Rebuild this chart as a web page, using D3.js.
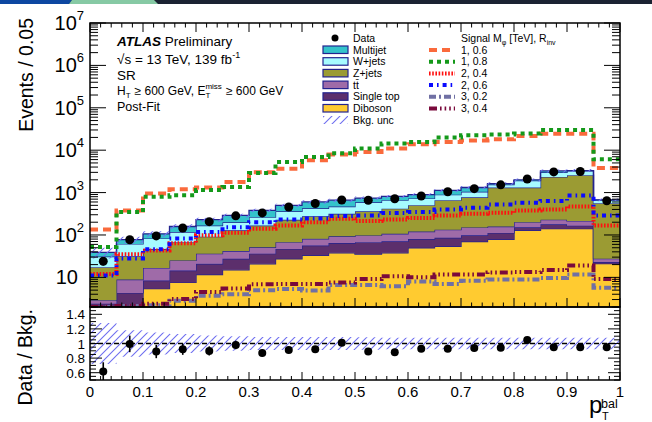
<!DOCTYPE html>
<html lang="en">
<head>
<meta charset="UTF-8">
<title>pT bal SR post-fit</title>
<script src="https://d3js.org/d3.v7.min.js"></script>
<style>
  body { margin: 0; background: #fff; }
  svg { display: block; font-family: "Liberation Sans", Arial, sans-serif; }
</style>
</head>
<body>
<div id="chart"></div>
<script>
// bin low edges in pT^bal (width 0.05)
const binLow = [0, 0.05, 0.1, 0.15, 0.2, 0.25, 0.3, 0.35, 0.4, 0.45, 0.5, 0.55, 0.6, 0.65, 0.7, 0.75, 0.8, 0.85, 0.9, 0.95];
const binWidth = 0.05;

// background stack (events / bin)
const multijet  = [8, 16, 24, 41, 63, 89, 117, 138, 176, 193, 152, 152, 167, 231, 271, 73, 90, 216, 75, 15];
const wjets     = [13.5, 30, 36, 50, 75, 71, 97, 134, 151, 151, 226, 244, 223, 230, 271, 231, 587, 676, 666, 98];
const zjets     = [14.5, 22.5, 30, 42.5, 55, 87, 115, 161, 194, 223, 265, 310, 384, 529, 625, 1160, 1119, 2115, 2356, 535];
const ttbar     = [0.5, 4.6, 8.3, 10.6, 15.4, 14.2, 15, 20.8, 25.1, 28.7, 30, 36, 40, 47, 53, 46, 48, 51, 48, 4.6];
const singletop = [1.0, 2.5, 3.0, 6.9, 9.2, 12.4, 15.4, 19.3, 23.1, 26.6, 32, 33, 30, 32, 28, 33, 23, 37, 25, 2.0];
const diboson   = [1.4, 1.8, 5.4, 7.6, 11.7, 15.1, 20.9, 27.5, 33.1, 38, 35.5, 38, 50, 54, 70, 79, 129, 141, 141, 21];
const bkgUnc    = [0.28, 0.18, 0.15, 0.13, 0.11, 0.10, 0.09, 0.09, 0.09, 0.09, 0.085, 0.08, 0.08, 0.08, 0.08, 0.08, 0.08, 0.08, 0.08, 0.08];

const dataCounts = [24, 77, 95, 146, 206, 283, 331, 456, 554, 667, 660, 715, 829, 1043, 1239, 1525, 2095, 3074, 3145, 642];

// signals: M_phi [TeV], R_inv
const sig_1_06 = [135, 380, 950, 1200, 1310, 1780, 3020, 3630, 5750, 7950, 9100, 10900, 13800, 15500, 17000, 18000, 21700, 24500, 24500, 3800];
const sig_1_08 = [52, 346, 800, 870, 1150, 1350, 2880, 5250, 6900, 8500, 10900, 14400, 15500, 19800, 22400, 23300, 24600, 29800, 29800, 6100];
const sig_2_04 = [12, 35, 43, 64, 98, 113, 141, 167, 200, 240, 213, 233, 250, 288, 316, 333, 380, 400, 468, 167];
const sig_2_06 = [11, 28, 46, 83, 117, 152, 200, 232, 245, 280, 288, 328, 347, 400, 436, 525, 575, 630, 850, 288];
const sig_3_02 = [2.0, 2.1, 2.2, 2.8, 3.7, 4.0, 5.0, 5.3, 4.9, 6.6, 6.6, 6.2, 8.0, 7.0, 8.3, 8.9, 8.9, 9.6, 11.7, 5.7];
const sig_3_04 = [1.5, 2.1, 2.4, 3.1, 4.5, 5.5, 6.9, 7.0, 7.0, 7.6, 9.1, 10.6, 10.0, 11.7, 11.7, 13, 13.3, 15, 19, 9.1];

const xTicks = [0, 0.1, 0.2, 0.3, 0.4, 0.5, 0.6, 0.7, 0.8, 0.9, 1];
const xTickLabels = ["0", "0.1", "0.2", "0.3", "0.4", "0.5", "0.6", "0.7", "0.8", "0.9", "1"];
const yExps = [1, 2, 3, 4, 5, 6, 7];
const rTicks = [0.6, 0.8, 1, 1.2, 1.4];
const rTickLabels = ["0.6", "0.8", "1", "1.2", "1.4"];

const W = 652, H = 422;
const L = 90, R = 620, T = 23, MB = 307, RB = 380;

const svg = d3.select("#chart").append("svg").attr("width", W).attr("height", H);

// page banner strip at the very top
svg.append("rect").attr("x", 0).attr("y", 0).attr("width", W).attr("height", 4).attr("fill", "#1b2232");
svg.append("path").attr("d", "M0,0 L72,0 L69,4 L0,4 Z").attr("fill", "#0d47a1");
svg.append("path").attr("d", "M72,0 L154,0 L158,4 L69,4 Z").attr("fill", "#86c9a4");

const defs = svg.append("defs");
const hatch = defs.append("pattern").attr("id", "hatch").attr("patternUnits", "userSpaceOnUse")
  .attr("width", 8).attr("height", 8);
hatch.append("path").attr("d", "M-2,2 L2,-2 M0,8 L8,0 M6,10 L10,6")
  .attr("stroke", "#6f6ff0").attr("stroke-width", 1.1);
defs.append("clipPath").attr("id", "clipMain").append("rect")
  .attr("x", L).attr("y", T).attr("width", R - L).attr("height", MB - T);
defs.append("clipPath").attr("id", "clipRatio").append("rect")
  .attr("x", L).attr("y", MB).attr("width", R - L).attr("height", RB - MB);

const x = d3.scaleLinear().domain([0, 1]).range([L, R]);
const y = d3.scaleLog().domain([2, 1e7]).range([MB, T]).clamp(true);
const yr = d3.scaleLinear().domain([0.5, 1.5]).range([RB, MB]);

// stack
const keys = ["diboson", "singletop", "ttbar", "zjets", "wjets", "multijet"];
const comps = { diboson, singletop, ttbar, zjets, wjets, multijet };
const colors = {
  multijet: "#34c3cb", wjets: "#a6fbff", zjets: "#9b9b33",
  ttbar: "#9f6ba8", singletop: "#5c2f6c", diboson: "#ffcb30"
};
const rows = binLow.map((b, i) => {
  const r = { lo: b };
  keys.forEach(k => r[k] = comps[k][i]);
  return r;
});
const stacked = d3.stack().keys(keys)(rows);
const total = rows.map(r => d3.sum(keys, k => r[k]));

function stepPts(vals) {
  const pts = [];
  vals.forEach((v, i) => {
    pts.push([x(binLow[i]), v]);
    pts.push([x(binLow[i] + binWidth), v]);
  });
  return pts;
}

const main = svg.append("g").attr("clip-path", "url(#clipMain)");

const area = d3.area().x(d => d.x).y0(d => y(Math.max(d.lo, 1e-3))).y1(d => y(Math.max(d.hi, 1e-3)));
stacked.forEach(layer => {
  const pts = [];
  layer.forEach((d, i) => {
    pts.push({ x: x(binLow[i]), lo: d[0], hi: d[1] });
    pts.push({ x: x(binLow[i] + binWidth), lo: d[0], hi: d[1] });
  });
  main.append("path").attr("d", area(pts)).attr("fill", colors[layer.key]);
  main.append("path")
    .attr("d", d3.line().x(d => d.x).y(d => y(Math.max(d.hi, 1e-3)))(pts))
    .attr("fill", "none").attr("stroke", "#23238f").attr("stroke-width", 1.3);
});

// bkg uncertainty band
const bandPts = [];
total.forEach((t, i) => {
  bandPts.push({ x: x(binLow[i]), lo: t * (1 - bkgUnc[i]), hi: t * (1 + bkgUnc[i]) });
  bandPts.push({ x: x(binLow[i] + binWidth), lo: t * (1 - bkgUnc[i]), hi: t * (1 + bkgUnc[i]) });
});
main.append("path").attr("d", area(bandPts)).attr("fill", "url(#hatch)");

// signals
const signals = [
  { label: "1, 0.6", vals: sig_1_06, color: "#fa6a3c", dash: "8,5" },
  { label: "1, 0.8", vals: sig_1_08, color: "#14991a", dash: "4,4" },
  { label: "2, 0.4", vals: sig_2_04, color: "#ff1010", dash: "1.6,1.6" },
  { label: "2, 0.6", vals: sig_2_06, color: "#0a0aff", dash: "4,4,1.6,4" },
  { label: "3, 0.2", vals: sig_3_02, color: "#7070a4", dash: "7,3,2,3" },
  { label: "3, 0.4", vals: sig_3_04, color: "#7a0a3c", dash: "8,3,1.6,3,1.6,3,1.6,3" }
];
const sline = d3.line().x(d => d[0]).y(d => y(d[1]));
signals.forEach(s => {
  main.append("path").attr("d", sline(stepPts(s.vals)))
    .attr("fill", "none").attr("stroke", s.color).attr("stroke-width", 4)
    .attr("stroke-dasharray", s.dash);
});

// data
const dg = svg.append("g").attr("clip-path", "url(#clipMain)");
dataCounts.forEach((n, i) => {
  const cx = x(binLow[i] + binWidth / 2);
  const e = Math.sqrt(n);
  dg.append("line").attr("x1", cx).attr("x2", cx).attr("y1", y(n - e)).attr("y2", y(n + e))
    .attr("stroke", "#000").attr("stroke-width", 1.6);
  dg.append("circle").attr("cx", cx).attr("cy", y(n)).attr("r", 4.5).attr("fill", "#000");
});

// ratio panel
const rg = svg.append("g").attr("clip-path", "url(#clipRatio)");
const rArea = d3.area().x(d => d.x).y0(d => yr(d.lo)).y1(d => yr(d.hi));
const rBand = [];
bkgUnc.forEach((u, i) => {
  rBand.push({ x: x(binLow[i]), lo: 1 - u, hi: 1 + u });
  rBand.push({ x: x(binLow[i] + binWidth), lo: 1 - u, hi: 1 + u });
});
rg.append("path").attr("d", rArea(rBand)).attr("fill", "url(#hatch)");
rg.append("line").attr("x1", L).attr("x2", R).attr("y1", yr(1)).attr("y2", yr(1))
  .attr("stroke", "#000").attr("stroke-width", 1.5).attr("stroke-dasharray", "5,3");
dataCounts.forEach((n, i) => {
  const cx = x(binLow[i] + binWidth / 2);
  const r = n / total[i];
  const e = Math.sqrt(n) / total[i];
  rg.append("line").attr("x1", cx).attr("x2", cx).attr("y1", yr(r - e)).attr("y2", yr(r + e))
    .attr("stroke", "#000").attr("stroke-width", 1.6);
  rg.append("circle").attr("cx", cx).attr("cy", yr(r)).attr("r", 4).attr("fill", "#000");
});

// frames
svg.append("rect").attr("x", L).attr("y", T).attr("width", R - L).attr("height", MB - T)
  .attr("fill", "none").attr("stroke", "#000").attr("stroke-width", 1.5);
svg.append("rect").attr("x", L).attr("y", MB).attr("width", R - L).attr("height", RB - MB)
  .attr("fill", "none").attr("stroke", "#000").attr("stroke-width", 1.5);

// ticks
const tk = svg.append("g").attr("stroke", "#000").attr("stroke-width", 1);
function tick(x1, y1, x2, y2) { tk.append("line").attr("x1", x1).attr("y1", y1).attr("x2", x2).attr("y2", y2); }
for (let k = 0; k <= 50; k++) {
  const v = k * 0.02;
  const major = k % 5 === 0;
  const px = x(v);
  const len = major ? 9 : 4.5;
  tick(px, MB, px, MB - len);
  tick(px, T, px, T + len);
  tick(px, RB, px, RB - (major ? 8 : 4));
}
for (let e = 0; e <= 6; e++) {
  for (let m = 1; m <= 9; m++) {
    const v = m * Math.pow(10, e);
    if (v < 2 || v > 1e7) continue;
    const py = y(v);
    const len = m === 1 ? 16 : 8;
    tick(L, py, L + len, py);
    tick(R, py, R - len, py);
  }
}
tick(L, y(1e7), L + 16, y(1e7));
tick(R, y(1e7), R - 16, y(1e7));
for (let k = 0; k <= 20; k++) {
  const v = 0.5 + k * 0.05;
  const major = Math.abs(((v - 0.6) / 0.2) - Math.round((v - 0.6) / 0.2)) < 1e-6;
  const len = major ? 12 : 6;
  tick(L, yr(v), L + len, yr(v));
  tick(R, yr(v), R - len, yr(v));
}

// tick labels
const txt = svg.append("g").attr("fill", "#000");
yExps.forEach(e => {
  const t = txt.append("text").attr("x", e === 1 ? 78 : 84).attr("y", y(Math.pow(10, e)) + 7)
    .attr("text-anchor", "end").attr("font-size", 20);
  t.append("tspan").text("10");
  if (e > 1) t.append("tspan").attr("font-size", 13).attr("dy", -10).text(String(e));
});
rTicks.forEach((v, i) => {
  txt.append("text").attr("x", 85).attr("y", yr(v) + 5).attr("text-anchor", "end")
    .attr("font-size", 13.5).text(rTickLabels[i]);
});
xTicks.forEach((v, i) => {
  txt.append("text").attr("x", x(v)).attr("y", 397).attr("text-anchor", "middle")
    .attr("font-size", 15).text(xTickLabels[i]);
});

// axis titles
txt.append("text").attr("transform", `translate(33,18) rotate(-90)`).attr("text-anchor", "end")
  .attr("font-size", 19.5).text("Events / 0.05");
txt.append("text").attr("transform", `translate(32,309) rotate(-90)`).attr("text-anchor", "end")
  .attr("font-size", 19.5).text("Data / Bkg.");
txt.append("text").attr("x", 589).attr("y", 413).attr("font-size", 24).text("p");
txt.append("text").attr("x", 601).attr("y", 408).attr("font-size", 12.5).text("bal");
txt.append("text").attr("x", 602).attr("y", 420).attr("font-size", 11).text("T");

// ATLAS label block
const lab = svg.append("g").attr("font-size", 13.5);
const atl = lab.append("text").attr("x", 117).attr("y", 46);
atl.append("tspan").attr("font-weight", "bold").attr("font-style", "italic").text("ATLAS");
atl.append("tspan").text(" Preliminary");
const sq = lab.append("text").attr("x", 117).attr("y", 64);
sq.append("tspan").text("\u221As = 13 TeV, 139 fb");
sq.append("tspan").attr("font-size", 9).attr("dy", -6).text("-1");
lab.append("text").attr("x", 117).attr("y", 80).text("SR");

// H_T >= 600 GeV, E_T^miss >= 600 GeV, pieces placed one after another
let cx0 = 117;
function piece(str, size, dy) {
  const t = lab.append("text").attr("x", cx0).attr("y", 95 + dy).attr("font-size", size).text(str);
  return t.node().getComputedTextLength();
}
cx0 += piece("H", 12, 0);
cx0 += piece("T", 8, 2.5) + 4;
cx0 += piece("\u2265 600 GeV, E", 12, 0);
const wMiss = piece("miss", 8, -6);
piece("T", 8, 2.5);
cx0 += wMiss + 4;
piece("\u2265 600 GeV", 12, 0);
lab.append("text").attr("x", 117).attr("y", 111).attr("font-size", 12.5).text("Post-Fit");

// legend: backgrounds
const lg = svg.append("g").attr("font-size", 10.5);
lg.append("circle").attr("cx", 335).attr("cy", 38).attr("r", 3.5).attr("fill", "#000");
lg.append("text").attr("x", 353).attr("y", 42).text("Data");
const legBkg = [
  ["Multijet", "multijet"], ["W+jets", "wjets"], ["Z+jets", "zjets"],
  ["tt\u0304", "ttbar"], ["Single top", "singletop"], ["Diboson", "diboson"]
];
legBkg.forEach((d, i) => {
  const by = 53.5 + i * 11.7;
  lg.append("rect").attr("x", 323).attr("y", by - 7.5).attr("width", 25).attr("height", 7.5)
    .attr("fill", colors[d[1]]).attr("stroke", "#23238f").attr("stroke-width", 1.2);
  lg.append("text").attr("x", 353).attr("y", by).text(d[0]);
});
lg.append("rect").attr("x", 323).attr("y", 116).attr("width", 25).attr("height", 8).attr("fill", "url(#hatch)");
lg.append("text").attr("x", 353).attr("y", 123.5).text("Bkg. unc");

// legend: signals
const sh = lg.append("text").attr("x", 461).attr("y", 42);
sh.append("tspan").text("Signal M");
sh.append("tspan").attr("font-size", 7).attr("dy", 3).text("\u03C6");
sh.append("tspan").attr("dy", -3).text(" [TeV], R");
sh.append("tspan").attr("font-size", 7).attr("dy", 3).text("inv");
signals.forEach((s, i) => {
  const by = 53.5 + i * 11.7;
  lg.append("line").attr("x1", 429).attr("x2", 455).attr("y1", by - 3.5).attr("y2", by - 3.5)
    .attr("stroke", s.color).attr("stroke-width", 4).attr("stroke-dasharray", s.dash);
  lg.append("text").attr("x", 461).attr("y", by).text(s.label);
});
</script>
</body>
</html>
